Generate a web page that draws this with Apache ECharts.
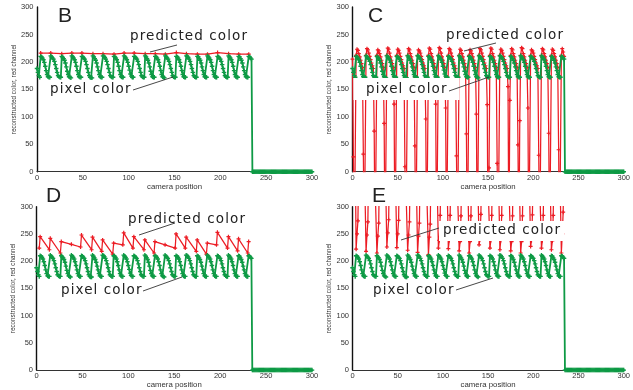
<!DOCTYPE html>
<html><head><meta charset="utf-8">
<script src="https://cdn.jsdelivr.net/npm/echarts@6/dist/echarts.min.js"></script>
<style>html,body{margin:0;padding:0;background:#fff}#c{width:633px;height:390px}</style>
</head><body><div id="c"></div>
<script>
// wide letter spacing for the annotation font (geometric, spaced lettering in the original)
(function(){
  var P = CanvasRenderingContext2D.prototype, orig = P.fillText;
  P.fillText = function(t, x, y, m){
    if ('letterSpacing' in this) this.letterSpacing = /DejaVu/.test(this.font) ? '1.1px' : '0px';
    return m === undefined ? orig.call(this, t, x, y) : orig.call(this, t, x, y, m);
  };
})();

const xTicks = [0, 50, 100, 150, 200, 250, 300];
const yTicks = [0, 50, 100, 150, 200, 250, 300];
const panelLetters = ['B', 'C', 'D', 'E'];
const xTitle = 'camera position';
const yTitle = 'reconstructed color, red channel';
const labelPredicted = 'predicted color';
const labelPixel = 'pixel color';

// pixel color (green), one value per camera position 0..300
const pixelColor = [
  188,181,175,172,
  210,209,207,204,199,192,184,177,173,172,172,
  211,209,207,205,201,195,188,181,175,173,172,172,
  210,208,206,203,198,191,183,177,173,172,171,
  211,209,207,204,199,192,184,177,173,172,172,
  210,209,207,205,201,195,188,181,175,172,171,171,
  211,209,206,203,198,191,184,177,173,172,172,
  211,210,208,205,201,195,188,181,175,173,172,172,
  210,209,207,204,199,192,184,177,173,172,172,
  211,209,207,204,199,192,185,178,174,172,172,
  210,209,207,205,201,195,188,181,175,173,172,172,
  211,209,206,203,198,191,183,177,173,172,172,
  210,209,207,204,199,192,184,177,173,172,171,
  211,209,207,205,201,195,188,181,175,173,172,172,
  210,209,207,204,199,192,184,177,173,172,172,
  211,210,208,205,201,195,188,181,175,173,172,172,
  210,209,206,203,198,191,184,177,173,172,172,
  211,209,207,204,199,192,184,177,173,172,172,
  210,209,207,205,201,195,188,181,175,173,172,172,
  211,209,207,204,199,192,184,177,173,172,172,
  210,209,206,203,198,191,184,177,173,172,172,
  210,209,207,205,
  0,0,0,0,0,0,0,0,0,0,0,0,0,0,0,0,0,0,0,0,0,0,
  0,0,0,0,0,0,0,0,0,0,0,0,0,0,0,0,0,0,0,0,0,0,
  0,0,0,0,0,0,0,0,0,0,0,0,0,0,0,0,0,0,0,0,0,0
];

// panel B predicted color
const predB_x = [4,15,27,38,49,61,72,84,95,106,118,129,140,152,163,175,186,197,209,220,231];
const predB_y = [216,216,215,216,216,215,215,214,216,216,215,215,214,217,215,214,214,217,215,214,214];

// panel C predicted color, one value per position 0..234 (-150 = below the axis)
const predC = [
  205,27,-150,-150,
  212,223,221,215,209,203,197,190,32,-150,-150,
  212,224,222,216,210,204,198,193,188,74,-150,-150,
  212,222,220,215,209,203,197,190,88,-150,-150,
  212,225,223,216,209,203,197,190,123,-150,-150,
  212,223,221,216,210,204,198,193,188,9,-150,-150,
  212,224,222,215,209,203,197,190,47,-150,-150,
  212,222,220,216,210,204,198,193,188,96,-150,-150,
  212,225,223,215,209,203,197,190,123,-150,-150,
  212,226,224,216,209,203,197,190,116,-150,-150,
  212,224,222,216,210,204,198,193,188,29,-150,-150,
  212,223,221,215,209,203,197,190,69,-150,-150,
  212,222,220,215,209,203,197,190,105,-150,-150,
  212,224,222,216,210,204,198,193,188,122,-150,7,
  212,225,223,215,209,203,197,190,15,-150,-150,
  212,223,221,216,210,204,198,193,188,155,-150,130,
  212,224,222,215,209,203,197,190,49,-150,93,
  212,226,224,215,209,203,197,190,116,-150,-150,
  212,222,220,216,210,204,198,193,188,30,-150,-150,
  212,224,222,215,209,203,197,190,70,-150,-150,
  212,223,221,215,209,203,197,190,40,-150,-150,
  212,224,218,210
];

// panel D predicted color
const predD_x = [3,4,14,15,26,27,38,48,49,60,61,71,72,83,84,94,95,105,106,117,118,128,129,140,151,152,162,163,174,175,185,186,196,197,208,209,219,220,230,231];
const predD_y = [224,245,221,242,215,236,231,226,248,221,244,218,239,213,233,230,252,224,245,221,239,215,236,230,224,250,224,244,218,239,213,233,230,253,224,245,219,241,215,236];

// panel E predicted color, one value per position 0..234 (400 = above the axis)
const predE = [
  400,400,400,400,
  222,250,274,400,400,400,400,400,400,400,400,
  218,248,272,400,400,400,400,400,400,400,400,400,
  215,246,270,400,400,400,400,400,400,400,400,
  226,252,276,400,400,400,400,400,400,400,400,
  225,250,275,400,400,400,400,400,400,400,400,400,
  220,248,272,400,400,400,400,400,400,400,400,
  216,246,270,400,400,400,400,400,400,400,400,400,
  212,244,268,400,400,400,400,400,400,400,400,
  224,238,284,400,400,400,400,400,400,400,400,
  223,238,284,400,400,400,400,400,400,400,400,400,
  219,236,283,400,400,400,400,400,400,400,400,
  215,236,283,400,400,400,400,400,400,400,400,
  230,240,286,400,400,400,400,400,400,400,400,400,
  224,238,284,400,400,400,400,400,400,400,400,
  221,238,284,400,400,400,400,400,400,400,400,400,
  219,236,283,400,400,400,400,400,400,400,400,
  215,236,283,400,400,400,400,400,400,400,400,
  227,238,285,400,400,400,400,400,400,400,400,400,
  224,238,284,400,400,400,400,400,400,400,400,
  221,237,284,400,400,400,400,400,400,400,400,
  215,250,290,400
];

const GREEN = '#0e9a45', RED = '#ec1c24';
const PLUS = 'path://M3.5,0H6.5V3.5H10V6.5H6.5V10H3.5V6.5H0V3.5H3.5Z';

const grids = [
  {left: 37, top: 7, width: 275, height: 164.7},
  {left: 352.5, top: 7, width: 277.5, height: 164.7},
  {left: 36.5, top: 206.7, width: 275.5, height: 165},
  {left: 352.5, top: 206.7, width: 278, height: 165}
];

const idx = a => a.map((v, i) => [i, v]);
const zip = (xs, ys) => xs.map((x, i) => [x, ys[i]]);
const predData = [zip(predB_x, predB_y), idx(predC), zip(predD_x, predD_y), idx(predE)];

const xAxis = [], yAxis = [], series = [];
grids.forEach((g, i) => {
  xAxis.push({
    type: 'value', gridIndex: i, min: xTicks[0], max: xTicks[xTicks.length - 1], interval: 50,
    axisLine: {show: true, onZero: false, lineStyle: {color: '#333', width: 1}},
    axisTick: {show: false}, splitLine: {show: false},
    axisLabel: {fontSize: 7.5, color: '#333', margin: 2, fontFamily: 'Liberation Sans', showMaxLabel: true, showMinLabel: true},
    name: xTitle, nameLocation: 'middle', nameGap: 9,
    nameTextStyle: {fontSize: 7.8, color: '#333', fontFamily: 'Liberation Sans'}
  });
  yAxis.push({
    type: 'value', gridIndex: i, min: yTicks[0], max: yTicks[yTicks.length - 1], interval: 50,
    axisLine: {show: true, lineStyle: {color: '#111', width: 1.4}},
    axisTick: {show: false}, splitLine: {show: false},
    axisLabel: {fontSize: 7.5, color: '#333', margin: 3.5, fontFamily: 'Liberation Sans'},
    name: yTitle, nameLocation: 'middle', nameGap: 20,
    nameTextStyle: {fontSize: 6.3, color: '#333', fontFamily: 'Liberation Sans'}
  });
  series.push({
    type: 'line', name: labelPredicted, xAxisIndex: i, yAxisIndex: i, data: predData[i],
    clip: true, z: 2, symbol: PLUS, symbolSize: 4, showSymbol: true,
    lineStyle: {color: RED, width: 1.25}, itemStyle: {color: RED}, animation: false
  });
  series.push({
    type: 'line', name: labelPixel, xAxisIndex: i, yAxisIndex: i, data: idx(pixelColor),
    clip: true, z: 3, symbol: PLUS, symbolSize: 4.5, showSymbol: true,
    lineStyle: {color: GREEN, width: 1.8}, itemStyle: {color: GREEN}, animation: false
  });
});

const LBL = '13.5px "DejaVu Sans"';
const txt = (t, x, y, font) => ({type: 'text', x: x, y: y, z: 102,
  style: {text: t, font: font, fill: '#222', textAlign: 'left', textVerticalAlign: 'middle', align: 'left', verticalAlign: 'middle'}});
const ln = (x1, y1, x2, y2) => ({type: 'line', z: 101, shape: {x1, y1, x2, y2}, style: {stroke: '#333', lineWidth: 0.9}});
const box = (x, y, w, h) => ({type: 'rect', z: 100, shape: {x, y, width: w, height: h}, style: {fill: '#fff'}});
const LET = '21px "Liberation Sans"';

const graphic = [
  // panel letters
  txt(panelLetters[0], 58, 16.5, LET), txt(panelLetters[1], 368, 16.5, LET),
  txt(panelLetters[2], 46, 196.5, LET), txt(panelLetters[3], 372, 196.5, LET),
  // B
  txt(labelPredicted, 130, 36, LBL), ln(150, 52, 177, 45),
  txt(labelPixel, 50, 89.5, LBL), ln(133, 90, 173, 77),
  // C
  box(353.5, 78, 106, 22),
  txt(labelPredicted, 446, 35, LBL), ln(464, 51, 496, 43),
  txt(labelPixel, 366, 89.5, LBL), ln(449, 91, 489, 77),
  // D
  txt(labelPredicted, 128, 219, LBL), ln(139, 235, 175, 223),
  txt(labelPixel, 61, 290, LBL), ln(143, 291, 182, 277),
  // E
  box(439, 221, 125, 20),
  txt(labelPredicted, 443, 230, LBL), ln(401, 240, 439, 228),
  txt(labelPixel, 373, 290, LBL), ln(456, 290, 493, 278)
];

const chart = echarts.init(document.getElementById('c'), null, {renderer: 'canvas'});
chart.setOption({
  animation: false, backgroundColor: '#fff',
  grid: grids, xAxis: xAxis, yAxis: yAxis, series: series, graphic: graphic
});
</script></body></html>
